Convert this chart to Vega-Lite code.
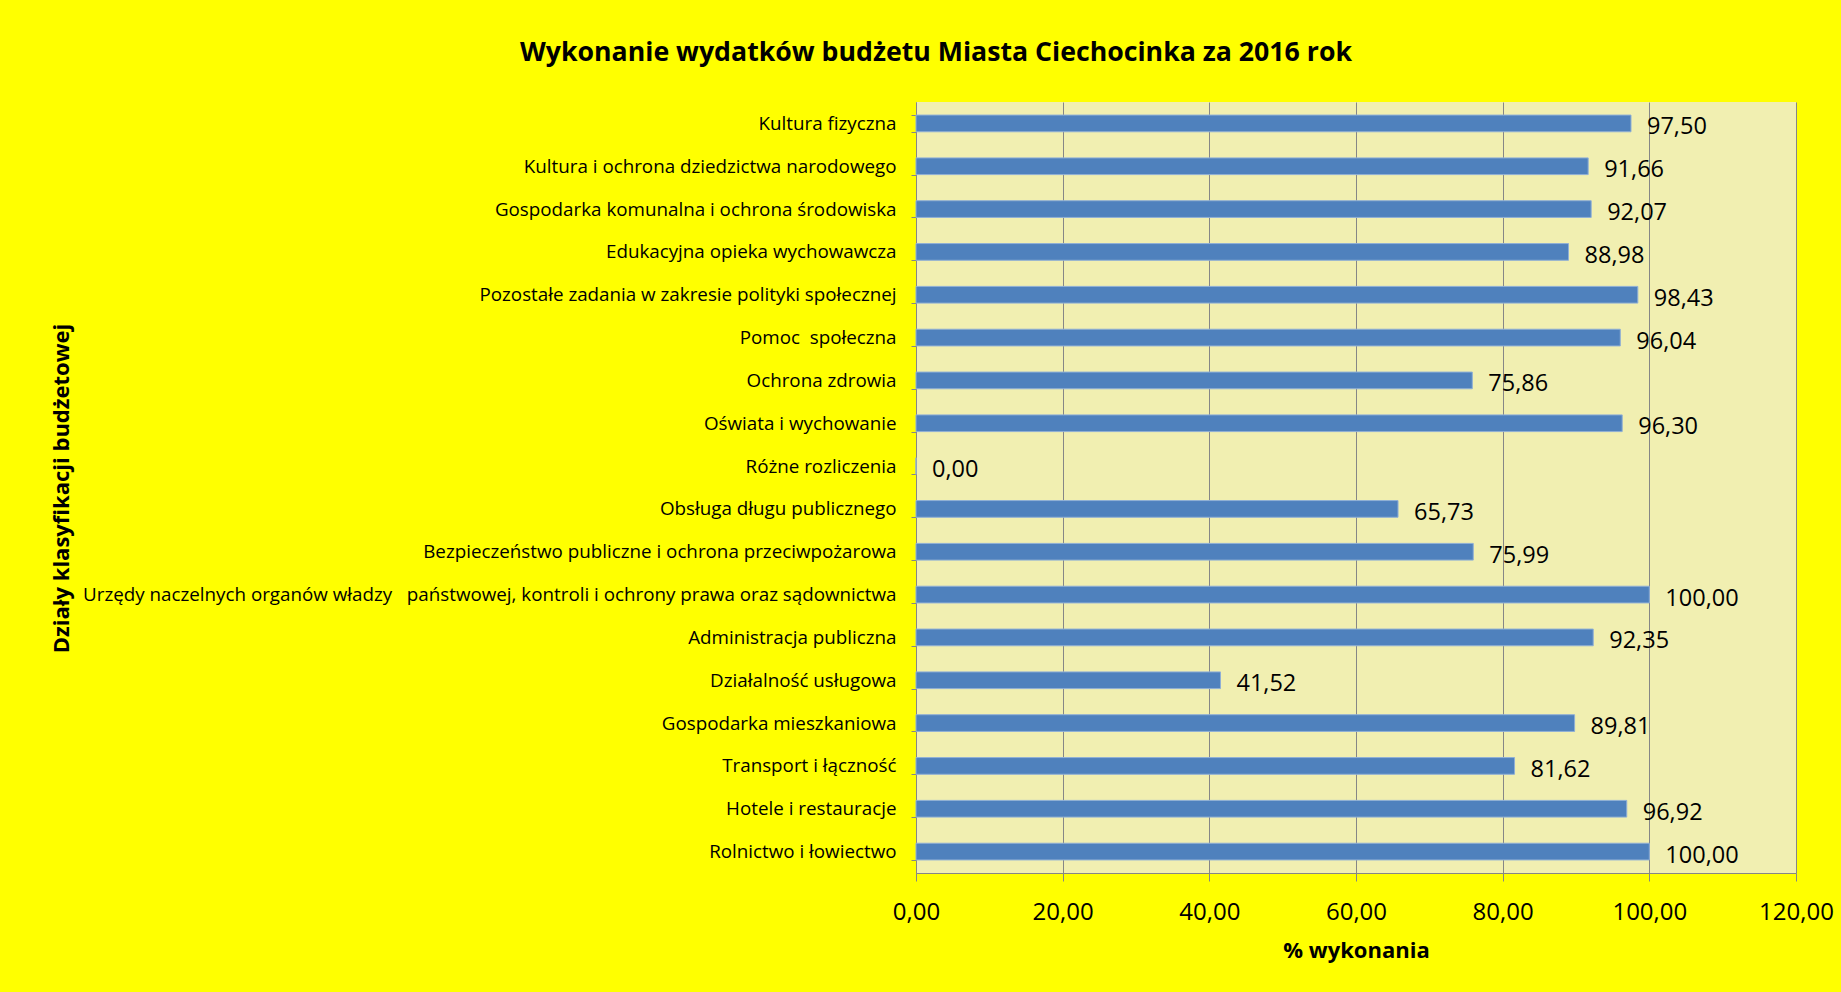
{
  "$schema": "https://vega.github.io/schema/vega-lite/v6.json",
  "autosize": {"type": "none"},
  "width": 880,
  "height": 771,
  "padding": {"left": 916, "top": 102, "right": 45, "bottom": 119},
  "background": "#FFFF00",
  "title": {
    "text": "Wykonanie wydatków budżetu Miasta Ciechocinka za 2016 rok",
    "font": "Open Sans",
    "fontSize": 26.7,
    "fontWeight": "bold",
    "color": "#000000",
    "anchor": "middle",
    "dx": -420,
    "offset": 26
  },
  "config": {
    "view": {"fill": "#F1EFB1", "stroke": null},
    "locale": {
      "number": {"decimal": ",", "thousands": " ", "grouping": [3], "currency": ["", " zł"]}
    }
  },
  "data": {
    "values": [
      {"dzial": "Kultura fizyczna", "wykonanie": 97.50},
      {"dzial": "Kultura i ochrona dziedzictwa narodowego", "wykonanie": 91.66},
      {"dzial": "Gospodarka komunalna i ochrona środowiska", "wykonanie": 92.07},
      {"dzial": "Edukacyjna opieka wychowawcza", "wykonanie": 88.98},
      {"dzial": "Pozostałe zadania w zakresie polityki społecznej", "wykonanie": 98.43},
      {"dzial": "Pomoc\u00a0 społeczna", "wykonanie": 96.04},
      {"dzial": "Ochrona zdrowia", "wykonanie": 75.86},
      {"dzial": "Oświata i wychowanie", "wykonanie": 96.30},
      {"dzial": "Różne rozliczenia", "wykonanie": 0.00},
      {"dzial": "Obsługa długu publicznego", "wykonanie": 65.73},
      {"dzial": "Bezpieczeństwo publiczne i ochrona przeciwpożarowa", "wykonanie": 75.99},
      {"dzial": "Urzędy naczelnych organów władzy\u00a0\u00a0 państwowej, kontroli i ochrony prawa oraz sądownictwa", "wykonanie": 100.00},
      {"dzial": "Administracja publiczna", "wykonanie": 92.35},
      {"dzial": "Działalność usługowa", "wykonanie": 41.52},
      {"dzial": "Gospodarka mieszkaniowa", "wykonanie": 89.81},
      {"dzial": "Transport i łączność", "wykonanie": 81.62},
      {"dzial": "Hotele i restauracje", "wykonanie": 96.92},
      {"dzial": "Rolnictwo i łowiectwo", "wykonanie": 100.00}
    ]
  },
  "encoding": {
    "y": {
      "field": "dzial",
      "type": "nominal",
      "sort": null,
      "scale": {"paddingInner": 0.61, "paddingOuter": 0.305},
      "axis": {
        "title": "Działy klasyfikacji budżetowej",
        "titleFont": "Open Sans",
        "titleFontSize": 22,
        "titleFontWeight": "bold",
        "titleColor": "#000000",
        "titleX": -855,
        "titleY": 386,
        "titleAngle": 270,
        "titleAlign": "center",
        "titleBaseline": "middle",
        "labelFont": "Open Sans",
        "labelFontSize": 18.8,
        "labelColor": "#000000",
        "labelLimit": 1000,
        "labelPadding": 15,
        "ticks": true,
        "tickBand": "extent",
        "tickSize": 5,
        "tickColor": "#868686",
        "domainColor": "#868686",
        "grid": false
      }
    },
    "x": {
      "field": "wykonanie",
      "type": "quantitative",
      "scale": {"domain": [0, 120], "nice": false},
      "axis": {
        "values": [0, 20, 40, 60, 80, 100, 120],
        "format": ".2f",
        "title": "% wykonania",
        "titleFont": "Open Sans",
        "titleFontSize": 22,
        "titleFontWeight": "bold",
        "titleColor": "#000000",
        "titlePadding": 16,
        "labelFont": "Open Sans",
        "labelFontSize": 24,
        "labelColor": "#000000",
        "labelPadding": 19,
        "labelFlush": false,
        "labelOverlap": false,
        "tickSize": 8,
        "tickColor": "#868686",
        "domainColor": "#868686",
        "grid": true,
        "gridColor": "#868686",
        "gridWidth": 1,
        "gridOpacity": 1
      }
    }
  },
  "layer": [
    {
      "mark": {"type": "bar", "color": "#4F81BD", "stroke": "#8FAFD6", "strokeWidth": 1}
    },
    {
      "mark": {"type": "text", "align": "left", "baseline": "middle", "dx": 16, "dy": 4, "font": "Open Sans", "fontSize": 23.5, "color": "#000000"},
      "encoding": {
        "text": {"field": "wykonanie", "type": "quantitative", "format": ".2f"}
      }
    }
  ]
}
